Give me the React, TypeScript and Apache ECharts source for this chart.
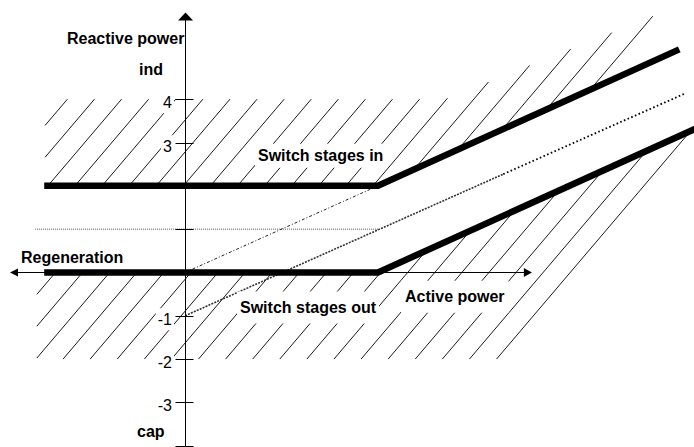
import React, { useEffect, useRef } from "react";
import * as echarts from "echarts";

// ---- scales (data units: 1 unit on both axes) ----
const X_MIN = -4.27;
const X_MAX = 11.74;
const Y_MIN = -4.03;
const Y_MAX = 6.29;

// ---- characteristic lines ----
const switchInLimit: number[][] = [[-3.25, 2], [4.45, 2], [11.4, 5.15]];
const switchOutLimit: number[][] = [[-3.25, 0], [4.45, 0], [12.2, 3.51]];
const originLine: number[][] = [[0, 0], [4.45, 2]];
const midLineDense: number[][] = [[0, -1], [7.34, 2.27]];
const midLineDotted: number[][] = [[7.34, 2.27], [11.55, 4.14]];
const levelLine: number[][] = [[-3.46, 1], [4.45, 1]];

// ---- axes ----
const yTickValues = [4, 3, 2, 1, -1, -2, -3, -4];
const yTickLabels = ["4", "3", "", "", "-1", "-2", "-3", ""];
const xAxisExtent = [-4.04, 8.0];
const yAxisExtent = [-4.03, 6.0];

// ---- hatched zones ----
const hatchAboveTop: number[][] = [[-3.3, 4], [6.0, 4], [11.5, 6.2]];
const hatchAboveLeft = -3.23;
const hatchAboveRange = [-7, 12];
const hatchBelowBottom: number[][] = [[-4, -2], [12, -2]];
const hatchBelowLeft = -3.42;
const hatchBelowRange = [-2, 17];
const HATCH_ORIGIN = -1.74;
const HATCH_STEP = 0.625;
const HATCH_SLANT = 0.85;

const FONT = '"Liberation Sans", Arial, Helvetica, sans-serif';

function interp(p: number[][], x: number): number {
  let i = 0;
  while (i < p.length - 2 && x > p[i + 1][0]) i++;
  const [x0, y0] = p[i];
  const [x1, y1] = p[i + 1];
  return y0 + ((y1 - y0) * (x - x0)) / (x1 - x0);
}

function solveCross(p: number[][], a: number): number {
  let lo = -30;
  let hi = 30;
  for (let n = 0; n < 60; n++) {
    const mid = (lo + hi) / 2;
    const h = mid - interp(p, a + HATCH_SLANT * mid);
    if (h > 0) hi = mid;
    else lo = mid;
  }
  return (lo + hi) / 2;
}

function hatchSegments(lower: number[][], upper: number[][], left: number, range: number[]) {
  const segs: number[][] = [];
  for (let i = range[0]; i <= range[1]; i++) {
    const a = HATCH_ORIGIN + i * HATCH_STEP;
    let y0 = solveCross(lower, a);
    const y1 = solveCross(upper, a);
    y0 = Math.max(y0, (left - a) / HATCH_SLANT);
    if (y1 > y0) segs.push([a + HATCH_SLANT * y0, y0, a + HATCH_SLANT * y1, y1]);
  }
  return segs;
}

function textEl(text: string, x: number, y: number, pad?: number[]) {
  const style: any = {
    text,
    x: pad ? x - pad[1] : x,
    y,
    fill: "#000",
    fontSize: 16,
    fontWeight: "bold",
    fontFamily: FONT,
    textAlign: "left",
    textVerticalAlign: "middle",
    align: "left",
    verticalAlign: "middle",
  };
  if (pad) {
    style.backgroundColor = "#fff";
    style.padding = [pad[0], pad[1], pad[0], pad[1]];
  }
  return { type: "text", z: 100, style };
}

export default function App() {
  const ref = useRef<HTMLDivElement>(null);

  useEffect(() => {
    if (!ref.current) return;
    const chart = echarts.init(ref.current, undefined, { renderer: "svg" });

    const hatch = [
      ...hatchSegments(switchInLimit, hatchAboveTop, hatchAboveLeft, hatchAboveRange),
      ...hatchSegments(hatchBelowBottom, switchOutLimit, hatchBelowLeft, hatchBelowRange),
    ];

    const thick = {
      color: "#000",
      width: 6.5,
      cap: "butt",
      join: "miter",
    };

    chart.setOption({
      animation: false,
      backgroundColor: "#fff",
      grid: { left: 0, right: 0, top: 0, bottom: 0 },
      xAxis: { type: "value", min: X_MIN, max: X_MAX, show: false },
      yAxis: { type: "value", min: Y_MIN, max: Y_MAX, show: false },
      series: [
        {
          type: "custom",
          name: "hatch",
          z: 1,
          data: hatch,
          encode: { x: [0, 2], y: [1, 3] },
          renderItem: (_p: any, api: any) => {
            const a = api.coord([api.value(0), api.value(1)]);
            const b = api.coord([api.value(2), api.value(3)]);
            return {
              type: "line",
              shape: { x1: a[0], y1: a[1], x2: b[0], y2: b[1] },
              style: { stroke: "#000", lineWidth: 0.9 },
            };
          },
        },
        {
          type: "line",
          z: 2,
          data: levelLine,
          symbol: "none",
          lineStyle: { color: "#555", width: 1, type: [1, 1] },
        },
        {
          type: "line",
          z: 2,
          data: originLine,
          symbol: "none",
          lineStyle: { color: "#222", width: 1, type: [3, 2, 1, 2] },
        },
        {
          type: "line",
          z: 2,
          data: midLineDense,
          symbol: "none",
          lineStyle: { color: "#333", width: 1.6, type: [2, 1.2] },
        },
        {
          type: "line",
          z: 2,
          data: midLineDotted,
          symbol: "none",
          lineStyle: { color: "#000", width: 1.8, type: [1.6, 2.4] },
        },
        {
          type: "line",
          z: 3,
          data: switchInLimit,
          symbol: "none",
          lineStyle: thick,
        },
        {
          type: "line",
          z: 3,
          data: switchOutLimit,
          symbol: "none",
          lineStyle: thick,
        },
        {
          type: "custom",
          name: "axes",
          z: 4,
          data: [[0, 0]],
          renderItem: (_p: any, api: any) => {
            const l = api.coord([xAxisExtent[0], 0]);
            const r = api.coord([xAxisExtent[1], 0]);
            const b = api.coord([0, yAxisExtent[0]]);
            const t = api.coord([0, yAxisExtent[1]]);
            const yy = Math.round(l[1]) + 0.5;
            const xx = Math.round(b[0]) + 0.5;
            const st = { stroke: "#000", lineWidth: 1 };
            return {
              type: "group",
              children: [
                { type: "line", shape: { x1: l[0] + 6, y1: yy, x2: r[0] - 6, y2: yy }, style: st },
                { type: "line", shape: { x1: xx, y1: b[1] + 2, x2: xx, y2: t[1] + 6 }, style: st },
                {
                  type: "polygon",
                  shape: { points: [[l[0], yy], [l[0] + 8, yy - 4], [l[0] + 8, yy + 4]] },
                  style: { fill: "#000" },
                },
                {
                  type: "polygon",
                  shape: { points: [[r[0], yy], [r[0] - 8, yy - 4.5], [r[0] - 8, yy + 4.5]] },
                  style: { fill: "#000" },
                },
                {
                  type: "polygon",
                  shape: { points: [[xx, t[1]], [xx - 7.5, t[1] + 8], [xx + 7.5, t[1] + 8]] },
                  style: { fill: "#000" },
                },
              ],
            };
          },
        },
        {
          type: "custom",
          name: "ticks",
          z: 5,
          data: yTickValues.map((v, i) => [0, v, i]),
          encode: { x: 0, y: 1 },
          renderItem: (_p: any, api: any) => {
            const p = api.coord([api.value(0), api.value(1)]);
            const x = Math.round(p[0]) + 0.5;
            const y = Math.round(p[1]) + 0.5;
            const label = yTickLabels[api.value(2)];
            const children: any[] = [
              { type: "line", shape: { x1: x - 10, y1: y, x2: x + 8, y2: y }, style: { stroke: "#000", lineWidth: 1 } },
            ];
            if (label) {
              children.push({
                type: "text",
                style: {
                  text: label,
                  x: x - 11.5,
                  y: y + 2.8,
                  fill: "#000",
                  fontSize: 16,
                  fontFamily: FONT,
                  textAlign: "right",
                  textVerticalAlign: "middle",
                  align: "right",
                  verticalAlign: "middle",
                  backgroundColor: "#fff",
                  padding: [3, 2, 3, 2],
                },
              });
            }
            return { type: "group", children };
          },
        },
      ],
      graphic: [
        textEl("Reactive power", 67, 38),
        textEl("ind", 139, 69),
        textEl("Switch stages in", 258, 155.8, [4, 3]),
        textEl("Regeneration", 21, 257),
        textEl("Switch stages out", 240, 307.5, [8, 3]),
        textEl("Active power", 405, 296.7, [8, 4]),
        textEl("cap", 137, 431.3),
      ],
    });

    return () => chart.dispose();
  }, []);

  return (
    <div
      ref={ref}
      style={{ position: "absolute", left: 0, top: 0, width: 694, height: 447 }}
    />
  );
}
